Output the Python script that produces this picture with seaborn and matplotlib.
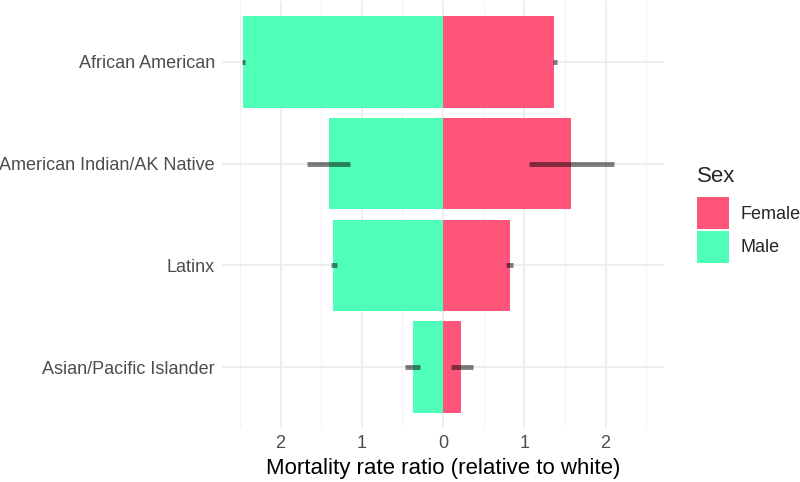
import pandas as pd
import numpy as np
import seaborn as sns
import matplotlib.pyplot as plt
from matplotlib.patches import Patch
from matplotlib.ticker import FuncFormatter, MultipleLocator

# Mortality rate ratios relative to white
groups = ["African American", "American Indian/AK Native", "Latinx", "Asian/Pacific Islander"]
female_rr = [1.36, 1.57, 0.83, 0.22]
male_rr = [2.46, 1.40, 1.35, 0.37]
female_lo = [1.35, 1.06, 0.77, 0.10]
female_hi = [1.40, 2.11, 0.86, 0.37]
male_lo = [2.44, 1.14, 1.31, 0.28]
male_hi = [2.47, 1.67, 1.38, 0.47]

colors = {"Female": "#FF557A", "Male": "#50FFB9"}

df = pd.DataFrame({
    "group": groups * 2,
    "sex": ["Female"] * len(groups) + ["Male"] * len(groups),
    "rr": female_rr + [-v for v in male_rr],
})

sns.set_theme(style="whitegrid")
plt.rcParams["font.family"] = ["Liberation Sans", "DejaVu Sans"]

fig = plt.figure(figsize=(8, 4.82), dpi=100)
ax = fig.add_axes([0.2775, 0.112, 0.5525, 0.886])

sns.barplot(data=df, x="rr", y="group", hue="sex", order=groups,
            hue_order=["Female", "Male"], palette=colors, dodge=False,
            width=0.9, saturation=1, ax=ax, legend=False)
for p in ax.patches:
    p.set_edgecolor("none")

# error bars
ypos = np.arange(len(groups))
ax.hlines(ypos, female_lo, female_hi, color="black", alpha=0.5, linewidth=3.5, zorder=5)
ax.hlines(ypos, [-v for v in male_lo], [-v for v in male_hi], color="black",
          alpha=0.5, linewidth=3.5, zorder=5)

ax.set_xlim(-2.72, 2.72)
ax.set_ylim(len(groups) - 0.4, -0.6)
ax.xaxis.set_major_locator(MultipleLocator(1))
ax.xaxis.set_minor_locator(MultipleLocator(0.5))
ax.xaxis.set_major_formatter(FuncFormatter(lambda v, pos: f"{abs(v):.0f}"))

ax.set_facecolor("white")
for s in ax.spines.values():
    s.set_visible(False)
ax.grid(which="major", axis="both", color="#EBEBEB", linewidth=1.2)
ax.grid(which="minor", axis="x", color="#F2F2F2", linewidth=0.7)
ax.set_axisbelow(True)
ax.tick_params(axis="both", which="both", length=0, labelsize=13, labelcolor="#4D4D4D", pad=5)
ax.set_ylabel("")
ax.set_xlabel("Mortality rate ratio (relative to white)", fontsize=16, color="black", labelpad=4)

# legend: title as separate text so the gap to the keys matches
fig.text(697 / 800, 1 - 177 / 482, "Sex", fontsize=16, ha="left", va="center")
handles = [Patch(facecolor=colors[k], edgecolor="none", label=k) for k in ["Female", "Male"]]
fig.legend(handles=handles, loc="upper left",
           bbox_to_anchor=(0.871, 1 - 197 / 482), frameon=False, fontsize=13,
           borderpad=0, borderaxespad=0,
           handlelength=1.77, handleheight=2.35,
           handletextpad=0.65, labelspacing=0.1)

fig.savefig("out.png", dpi=100)
